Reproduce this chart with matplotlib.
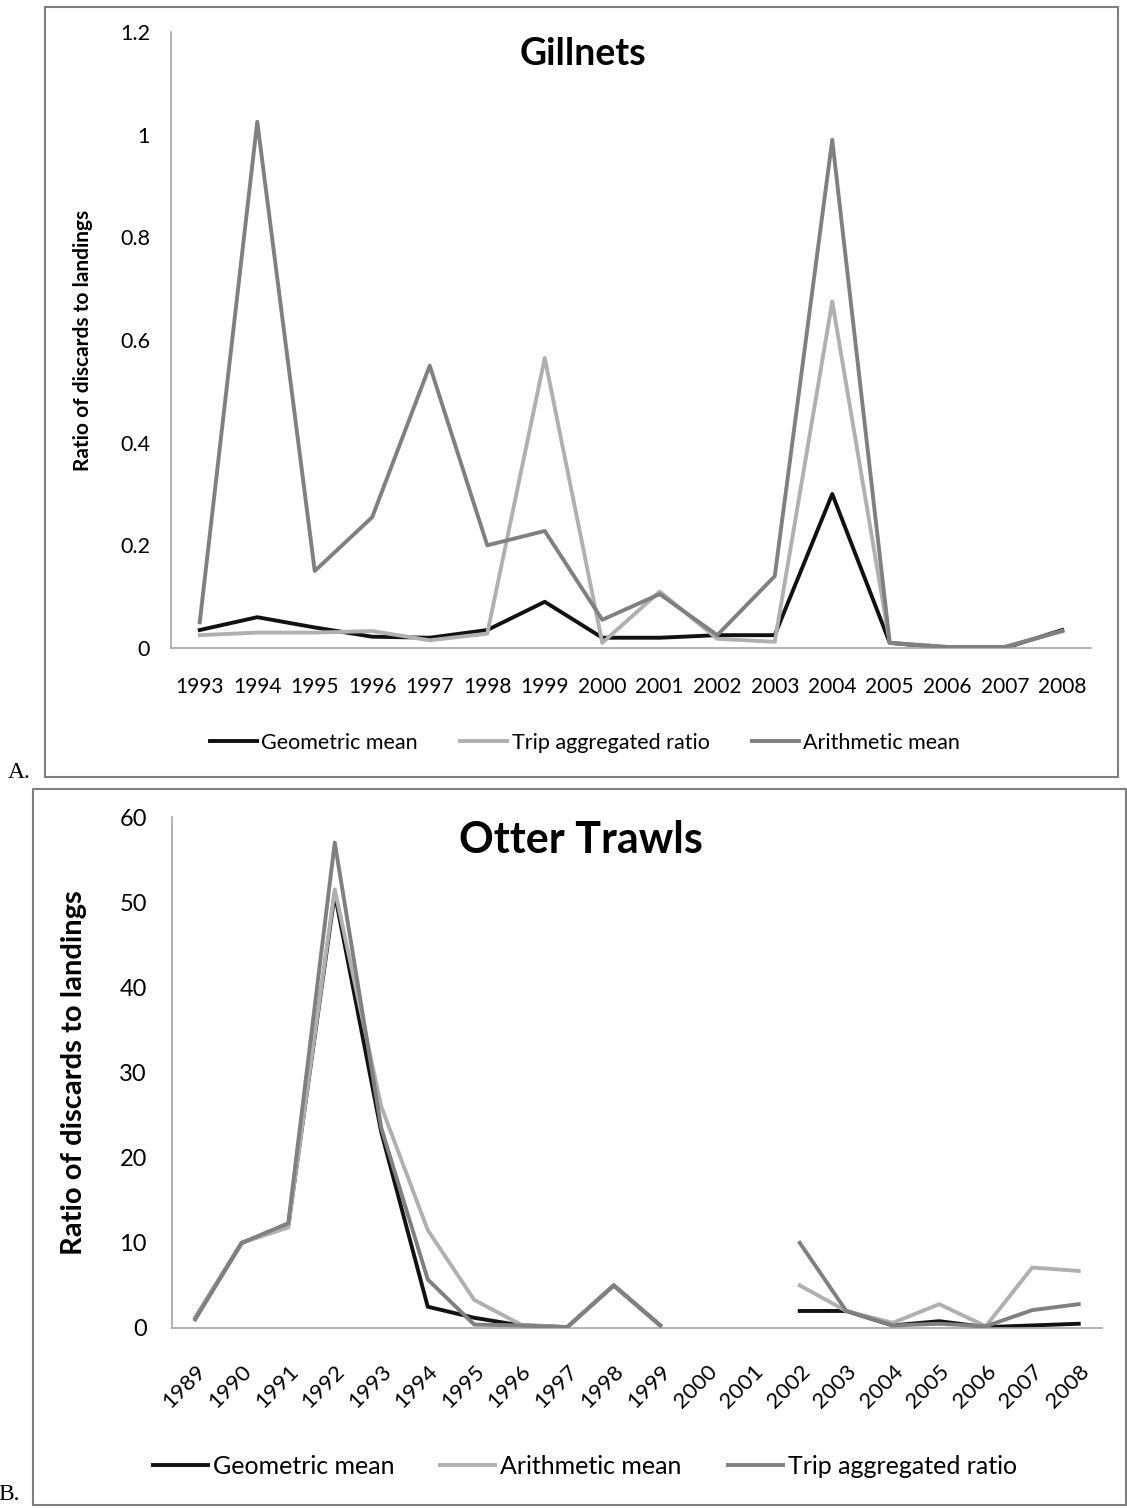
import numpy as np
import matplotlib
matplotlib.use("Agg")
import matplotlib.pyplot as plt
from matplotlib.patches import Rectangle

# ---------------- data ----------------
years_a = [str(y) for y in range(1993, 2009)]
gill_geometric = [0.035, 0.06, 0.04, 0.022, 0.02, 0.035, 0.09, 0.02, 0.02, 0.025, 0.025, 0.30, 0.01, 0.0, 0.0, 0.035]
gill_trip = [0.025, 0.03, 0.03, 0.033, 0.015, 0.028, 0.565, 0.01, 0.11, 0.018, 0.012, 0.675, 0.01, 0.002, 0.002, 0.033]
gill_arith = [0.05, 1.025, 0.15, 0.255, 0.55, 0.20, 0.228, 0.055, 0.105, 0.025, 0.14, 0.99, 0.01, 0.002, 0.002, 0.033]
yticks_a = [0, 0.2, 0.4, 0.6, 0.8, 1, 1.2]
yticklabels_a = ["0", "0.2", "0.4", "0.6", "0.8", "1", "1.2"]

years_b = [str(y) for y in range(1989, 2009)]
otter_geometric = [1.2, 10.0, 12.0, 51.0, 23.0, 2.5, 1.2, 0.3, 0.1, 5.0, 0.3, np.nan, np.nan, 2.0, 2.0, 0.3, 0.8, 0.1, 0.3, 0.5]
otter_arith = [1.2, 10.0, 11.8, 51.5, 26.0, 11.5, 3.3, 0.4, 0.1, 5.0, 0.3, np.nan, np.nan, 5.0, 2.0, 0.6, 2.8, 0.2, 7.1, 6.7]
otter_trip = [1.0, 10.0, 12.3, 57.0, 23.5, 5.7, 0.4, 0.3, 0.1, 5.0, 0.3, np.nan, np.nan, 10.0, 2.0, 0.3, 0.5, 0.2, 2.1, 2.8]
yticks_b = [0, 10, 20, 30, 40, 50, 60]

BLACK = "#111111"
LIGHT = "#b0b0b0"
MID = "#808080"
AXC = "#a6a6a6"

plt.rcParams['font.family'] = ['Lato', 'DejaVu Sans']

W, H = 1127, 1509
fig = plt.figure(figsize=(W / 100, H / 100), dpi=100)


def rect(l, t, r, b):
    return [l / W, 1 - b / H, (r - l) / W, (b - t) / H]


# panel frames
fig.patches.append(Rectangle((45 / W, 1 - 777 / H), (1118 - 45) / W, (777 - 7) / H,
                             transform=fig.transFigure, fill=False, edgecolor="#7f7f7f", lw=1.5))
fig.patches.append(Rectangle((33 / W, 1 - 1505 / H), (1126 - 33) / W, (1505 - 789) / H,
                             transform=fig.transFigure, fill=False, edgecolor="#7f7f7f", lw=1.5))
fig.text(8 / W, 1 - 772 / H, "A.", family="Liberation Serif", fontsize=17, va="center", ha="left")
fig.text(-2 / W, 1 - 1494 / H, "B.", family="Liberation Serif", fontsize=17, va="center", ha="left")


def style(ax):
    for s in ["top", "right"]:
        ax.spines[s].set_visible(False)
    for s in ["left", "bottom"]:
        ax.spines[s].set_color(AXC)
        ax.spines[s].set_linewidth(1.2)
    ax.tick_params(length=0)


LW = 2.8

# ---------------- panel A ----------------
axA = fig.add_axes(rect(171, 32, 1091, 648))
style(axA)
xa = np.arange(len(years_a))
axA.plot(xa, gill_arith, color=MID, lw=LW, label="Arithmetic mean", zorder=4)
axA.plot(xa, gill_trip, color=LIGHT, lw=LW, label="Trip aggregated ratio", zorder=3)
axA.plot(xa, gill_geometric, color=BLACK, lw=LW, label="Geometric mean", zorder=2)
axA.set_xlim(-0.5, len(years_a) - 0.5)
axA.set_ylim(0, 1.2)
axA.set_yticks(yticks_a)
axA.set_yticklabels(yticklabels_a, fontsize=15.5)
axA.set_xticks(xa)
axA.set_xticklabels(years_a, fontsize=15)
axA.tick_params(axis="y", pad=15)
axA.tick_params(axis="x", pad=21)
axA.set_ylabel("Ratio of discards to landings", fontsize=15, fontweight="bold")
axA.yaxis.set_label_coords(-78 / 920, 0.5)
axA.text(0.448, 0.965, "Gillnets", transform=axA.transAxes, fontsize=27, fontweight="bold",
         ha="center", va="center")
hA, lA = axA.get_legend_handles_labels()
order = [2, 1, 0]
fig.legend([hA[i] for i in order], [lA[i] for i in order], loc="center",
           bbox_to_anchor=(585 / W, 1 - 743 / H), ncol=3, frameon=False, fontsize=15.5,
           handlelength=2.2, handletextpad=0.2, columnspacing=1.95)

# ---------------- panel B ----------------
axB = fig.add_axes(rect(172, 817, 1102, 1328))
style(axB)
xb = np.arange(len(years_b))
axB.plot(xb, otter_trip, color=MID, lw=LW, label="Trip aggregated ratio", zorder=4)
axB.plot(xb, otter_arith, color=LIGHT, lw=LW, label="Arithmetic mean", zorder=3)
axB.plot(xb, otter_geometric, color=BLACK, lw=LW, label="Geometric mean", zorder=2)
axB.set_xlim(-0.5, len(years_b) - 0.5)
axB.set_ylim(0, 60)
axB.set_yticks(yticks_b)
axB.set_yticklabels([str(v) for v in yticks_b], fontsize=17)
axB.set_xticks(xb)
axB.set_xticklabels(years_b, fontsize=16, rotation=45, ha="right", rotation_mode="anchor")
axB.tick_params(axis="y", pad=18)
axB.tick_params(axis="x", pad=24)
axB.set_ylabel("Ratio of discards to landings", fontsize=21, fontweight="bold")
axB.yaxis.set_label_coords(-85 / 930, 0.5)
axB.text(0.44, 0.955, "Otter Trawls", transform=axB.transAxes, fontsize=31, fontweight="bold",
         ha="center", va="center")
hB, lB = axB.get_legend_handles_labels()
fig.legend([hB[i] for i in order], [lB[i] for i in order], loc="center",
           bbox_to_anchor=(585 / W, 1 - 1466 / H), ncol=3, frameon=False, fontsize=18,
           handlelength=2.2, handletextpad=0.2, columnspacing=1.84)

fig.savefig("out.png", dpi=100)
